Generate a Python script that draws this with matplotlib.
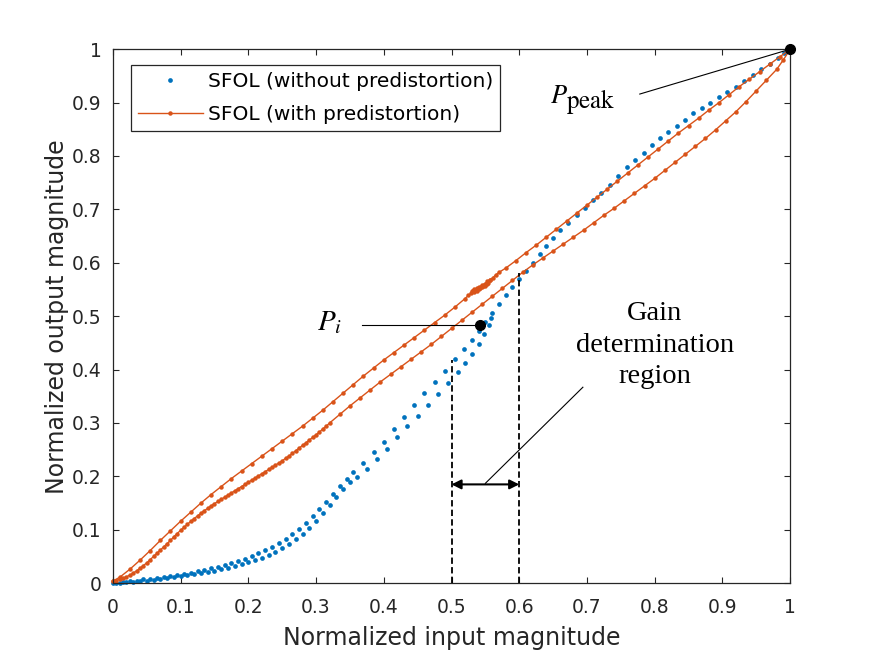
import matplotlib
matplotlib.use('Agg')
import matplotlib.pyplot as plt

# SFOL without predistortion -- two close branches of points
blue_a_x = [0.00, 0.01, 0.02, 0.03, 0.04, 0.05, 0.06, 0.07, 0.08, 0.09,
            0.10, 0.11, 0.12, 0.13, 0.14, 0.15, 0.16, 0.17, 0.18, 0.19,
            0.20, 0.21, 0.22, 0.23, 0.24, 0.25, 0.26, 0.27, 0.28, 0.29,
            0.30, 0.31, 0.32, 0.33, 0.34, 0.35, 0.36, 0.375, 0.39, 0.405,
            0.42, 0.435, 0.45, 0.465, 0.48, 0.495, 0.51, 0.52, 0.53, 0.54,
            0.548, 0.555, 0.558]
blue_a_y = [0.000, 0.001, 0.002, 0.003, 0.004, 0.005, 0.006, 0.008, 0.009, 0.011,
            0.013, 0.015, 0.017, 0.019, 0.021, 0.023, 0.026, 0.029, 0.032, 0.035,
            0.039, 0.043, 0.048, 0.053, 0.059, 0.066, 0.074, 0.083, 0.093, 0.104,
            0.117, 0.131, 0.146, 0.161, 0.177, 0.190, 0.198, 0.214, 0.232, 0.252,
            0.273, 0.294, 0.314, 0.334, 0.354, 0.374, 0.396, 0.412, 0.429, 0.448,
            0.466, 0.483, 0.496]

blue_b_x = [0.005, 0.015, 0.025, 0.035, 0.045, 0.055, 0.065, 0.075, 0.085, 0.095,
            0.105, 0.115, 0.125, 0.135, 0.145, 0.155, 0.165, 0.175, 0.185, 0.195,
            0.205, 0.215, 0.225, 0.235, 0.245, 0.255, 0.265, 0.275, 0.285, 0.295,
            0.305, 0.315, 0.325, 0.335, 0.345, 0.355, 0.37, 0.385, 0.40, 0.415,
            0.43, 0.445, 0.46, 0.475, 0.49, 0.505, 0.518, 0.53, 0.54, 0.55,
            0.56, 0.57, 0.58, 0.59, 0.60, 0.61, 0.62, 0.63, 0.64, 0.65,
            0.66, 0.672, 0.685, 0.697, 0.709, 0.721, 0.734, 0.746, 0.759, 0.771,
            0.784, 0.796, 0.808, 0.82, 0.833, 0.845, 0.857, 0.87, 0.882, 0.895,
            0.907, 0.92, 0.932, 0.945, 0.957, 0.97, 0.982, 0.991, 1.0]
blue_b_y = [0.001, 0.003, 0.004, 0.005, 0.007, 0.008, 0.010, 0.012, 0.014, 0.016,
            0.018, 0.020, 0.022, 0.025, 0.028, 0.031, 0.034, 0.038, 0.042, 0.046,
            0.051, 0.056, 0.062, 0.068, 0.075, 0.083, 0.092, 0.102, 0.113, 0.125,
            0.138, 0.152, 0.167, 0.182, 0.195, 0.208, 0.226, 0.245, 0.265, 0.289,
            0.312, 0.334, 0.356, 0.377, 0.398, 0.419, 0.438, 0.456, 0.472, 0.489,
            0.506, 0.523, 0.539, 0.554, 0.569, 0.585, 0.600, 0.616, 0.632, 0.647,
            0.661, 0.675, 0.690, 0.703, 0.717, 0.731, 0.746, 0.762, 0.779, 0.793,
            0.806, 0.820, 0.833, 0.845, 0.857, 0.868, 0.880, 0.890, 0.900, 0.910,
            0.920, 0.930, 0.941, 0.952, 0.963, 0.973, 0.984, 0.992, 1.0]

# SFOL with predistortion -- rising (lower) branch
pd_up_x = [0.000, 0.005, 0.010, 0.015, 0.020, 0.025, 0.030, 0.035, 0.040, 0.045,
           0.050, 0.055, 0.060, 0.065, 0.070, 0.075, 0.080, 0.085, 0.090, 0.095,
           0.100, 0.105, 0.110, 0.115, 0.120, 0.125, 0.130, 0.135, 0.140, 0.145,
           0.150, 0.155, 0.160, 0.165, 0.170, 0.175, 0.180, 0.185, 0.190, 0.195,
           0.200, 0.205, 0.210, 0.215, 0.220, 0.225, 0.230, 0.235, 0.240, 0.245,
           0.250, 0.255, 0.260, 0.265, 0.270, 0.275, 0.280, 0.285, 0.290, 0.295,
           0.300, 0.305, 0.310, 0.315, 0.320, 0.335, 0.350, 0.365, 0.380, 0.395,
           0.410, 0.425, 0.440, 0.455, 0.470, 0.485, 0.500, 0.515, 0.530, 0.545,
           0.560, 0.575, 0.590, 0.605, 0.620, 0.635, 0.650, 0.665, 0.680, 0.695,
           0.710, 0.725, 0.740, 0.755, 0.770, 0.785, 0.800, 0.815, 0.830, 0.845,
           0.860, 0.875, 0.890, 0.905, 0.920, 0.935, 0.950, 0.965, 0.980, 0.990,
           1.000]
pd_up_y = [0.004, 0.005, 0.007, 0.009, 0.012, 0.015, 0.019, 0.023, 0.028, 0.033,
           0.038, 0.044, 0.050, 0.056, 0.062, 0.068, 0.074, 0.080, 0.087, 0.093,
           0.099, 0.105, 0.110, 0.116, 0.121, 0.126, 0.131, 0.136, 0.140, 0.145,
           0.149, 0.153, 0.157, 0.161, 0.165, 0.169, 0.173, 0.177, 0.181, 0.185,
           0.189, 0.193, 0.197, 0.201, 0.205, 0.209, 0.213, 0.217, 0.221, 0.225,
           0.229, 0.234, 0.238, 0.243, 0.248, 0.253, 0.258, 0.263, 0.268, 0.273,
           0.278, 0.283, 0.289, 0.294, 0.300, 0.316, 0.332, 0.347, 0.362, 0.377,
           0.391, 0.405, 0.419, 0.433, 0.447, 0.462, 0.477, 0.492, 0.507, 0.522,
           0.537, 0.552, 0.567, 0.582, 0.596, 0.609, 0.622, 0.635, 0.648, 0.661,
           0.675, 0.689, 0.702, 0.716, 0.730, 0.744, 0.758, 0.773, 0.788, 0.803,
           0.818, 0.833, 0.849, 0.866, 0.883, 0.902, 0.922, 0.942, 0.962, 0.980,
           1.000]

# falling (upper) branch, with the small kink near x = 0.55
pd_down_x = [0.985, 0.970, 0.955, 0.940, 0.925, 0.910, 0.895, 0.880, 0.865, 0.850,
             0.835, 0.820, 0.805, 0.790, 0.775, 0.760, 0.745, 0.730, 0.715, 0.700,
             0.685, 0.670, 0.655, 0.640, 0.625, 0.610, 0.595, 0.580, 0.570, 0.565,
             0.561, 0.557, 0.553, 0.549, 0.545, 0.541, 0.537, 0.533, 0.530, 0.534,
             0.538, 0.542, 0.546, 0.550, 0.554, 0.557, 0.553, 0.549, 0.545, 0.541,
             0.537, 0.533, 0.529, 0.525, 0.520, 0.505, 0.490, 0.475, 0.460, 0.445,
             0.430, 0.415, 0.400, 0.385, 0.370, 0.355, 0.340, 0.325, 0.310, 0.295,
             0.280, 0.265, 0.250, 0.235, 0.220, 0.205, 0.190, 0.175, 0.160, 0.145,
             0.130, 0.115, 0.100, 0.085, 0.070, 0.055, 0.040, 0.025, 0.010, 0.000]
pd_down_y = [0.986, 0.972, 0.958, 0.944, 0.930, 0.915, 0.900, 0.886, 0.871, 0.857,
             0.843, 0.828, 0.813, 0.798, 0.783, 0.768, 0.753, 0.738, 0.723, 0.708,
             0.693, 0.678, 0.663, 0.648, 0.633, 0.619, 0.604, 0.590, 0.582, 0.577,
             0.572, 0.568, 0.565, 0.561, 0.558, 0.555, 0.552, 0.550, 0.548, 0.549,
             0.551, 0.553, 0.556, 0.559, 0.563, 0.567, 0.561, 0.557, 0.554, 0.551,
             0.548, 0.546, 0.543, 0.539, 0.533, 0.517, 0.502, 0.488, 0.474, 0.460,
             0.446, 0.432, 0.418, 0.403, 0.388, 0.372, 0.356, 0.340, 0.324, 0.309,
             0.294, 0.280, 0.266, 0.252, 0.238, 0.224, 0.210, 0.196, 0.181, 0.166,
             0.150, 0.133, 0.116, 0.098, 0.080, 0.061, 0.043, 0.026, 0.011, 0.004]

ticks = [0, 0.1, 0.2, 0.3, 0.4, 0.5, 0.6, 0.7, 0.8, 0.9, 1]
tick_labels = ['0', '0.1', '0.2', '0.3', '0.4', '0.5', '0.6', '0.7', '0.8', '0.9', '1']

blue = '#0072BD'
orange = '#D95319'
dark = '#262626'

plt.rcParams['mathtext.fontset'] = 'stix'

fig = plt.figure(figsize=(8.75, 6.56), dpi=100)
ax = fig.add_axes([0.129, 0.111, 0.774, 0.814])

ax.plot(blue_a_x + blue_b_x, blue_a_y + blue_b_y, linestyle='none', marker='o',
        ms=3.4, mew=0, color=blue, clip_on=False,
        label='SFOL (without predistortion)')
ax.plot(pd_up_x + pd_down_x, pd_up_y + pd_down_y, '-', marker='o', ms=3.2, mew=0,
        lw=1.0, color=orange, clip_on=False, label='SFOL (with predistortion)')

ax.set_xlim(0, 1)
ax.set_ylim(0, 1)
ax.set_xticks(ticks)
ax.set_xticklabels(tick_labels)
ax.set_yticks(ticks)
ax.set_yticklabels(tick_labels)
ax.tick_params(direction='in', length=4.5, width=0.8, top=True, right=True,
               labelsize=13.5, colors=dark)
ax.tick_params(axis='x', pad=11)
ax.tick_params(axis='y', pad=8)
for sp in ax.spines.values():
    sp.set_color(dark)
    sp.set_linewidth(0.9)

ax.set_xlabel('Normalized input magnitude', fontsize=17, color=dark, labelpad=6)
ax.set_ylabel('Normalized output magnitude', fontsize=17, color=dark, labelpad=2.5)

leg = ax.legend(loc='upper left', bbox_to_anchor=(0.027, 0.970), borderaxespad=0,
                fontsize=14.5, handlelength=3.2, handletextpad=0.25,
                labelspacing=0.7, borderpad=0.35, fancybox=False, framealpha=1)
leg.get_frame().set_edgecolor(dark)
leg.get_frame().set_linewidth(0.9)

# annotations
ax.plot([1], [1], 'o', color='black', ms=7, clip_on=False, zorder=5)
ax.plot([0.778, 1], [0.916, 1], color='black', lw=0.8, clip_on=False)
ax.text(0.6455, 0.899, r'$P$', fontsize=19, ha='left', va='baseline')
ax.text(0.6692, 0.8895, r'$\mathrm{peak}$', fontsize=18, ha='left', va='baseline')

ax.plot([0.542], [0.483], 'o', color='black', ms=7, zorder=5)
ax.plot([0.368, 0.542], [0.483, 0.483], color='black', lw=0.8)
ax.text(0.3008, 0.4738, r'$P_i$', fontsize=21, ha='left', va='baseline')

ax.plot([0.5, 0.5], [0, 0.418], color='black', lw=1.3, linestyle=(0, (3.5, 1.8)))
ax.plot([0.6, 0.6], [0, 0.58], color='black', lw=1.3, linestyle=(0, (3.5, 1.8)))
ax.annotate('', xy=(0.5, 0.185), xytext=(0.6, 0.185),
            arrowprops=dict(arrowstyle='<|-|>', color='black', lw=1.5,
                            mutation_scale=14, shrinkA=0, shrinkB=0))
ax.plot([0.55, 0.694], [0.187, 0.367], color='black', lw=0.8)
ax.text(0.80, 0.446, 'Gain\ndetermination\nregion', fontsize=20.5,
        family='Liberation Serif', ha='center', va='center', linespacing=1.35)

fig.savefig('out.png', dpi=100)
